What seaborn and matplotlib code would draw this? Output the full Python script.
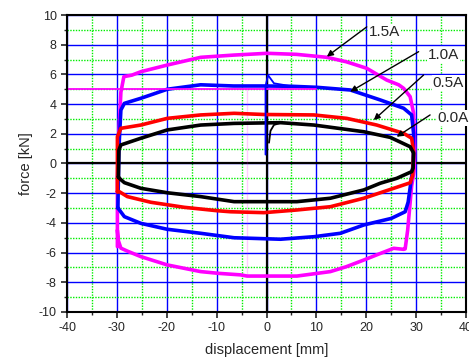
import pandas as pd
import matplotlib.pyplot as plt
import seaborn as sns
import numpy as np

sns.set_style('ticks')
plt.rcParams['font.family'] = ['Liberation Sans', 'DejaVu Sans']
plt.rcParams['axes.unicode_minus'] = False

# hysteresis loops: displacement [mm], force [kN]
x_15 = [-29.9, -29.9, -29.6, -29.2, -28.6, -27.0, -25.2, -19.9, -13.2, -6.6, 0.1, 6.0, 12.1,
        16.0, 20.1, 24.1, 26.5, 27.5, 28.8, 29.5, 29.7, 29.6, 29.1, 28.3, 27.8, 27.5, 25.5,
        22.5, 19.5, 16.0, 12.8, 6.1, -3.9, -5.2, -9.5, -13.2, -19.9, -25.2, -27.9, -29.2,
        -29.7, -29.9]
y_15 = [-5.6, -1.0, 2.0, 4.8, 5.85, 5.95, 6.18, 6.63, 7.15, 7.3, 7.42, 7.35, 7.15,
        6.85, 6.41, 5.62, 5.3, 5.06, 4.5, 3.38, 1.0, -0.5, -1.5, -4.5, -5.75, -5.78, -5.71,
        -6.1, -6.5, -6.95, -7.28, -7.58, -7.58, -7.5, -7.4, -7.28, -6.83, -6.27, -5.9, -5.7,
        -5.2, -4.5]

x_10 = [-29.8, -29.6, -29.2, -28.5, -25.2, -19.9, -13.2, -6.6, -0.5, 5.0, 10.1, 16.8,
        22.8, 27.5, 29.1, 29.5, 29.4, 29.1, 28.4, 27.8, 25.0, 19.5, 14.8, 9.5, 2.8,
        -6.5, -13.2, -19.9, -25.2, -28.5, -29.5, -29.8]
y_10 = [-3.0, 1.0, 3.6, 4.05, 4.39, 5.0, 5.3, 5.22, 5.22, 5.2, 5.13, 4.95,
        4.28, 3.72, 3.27, 2.0, 0.0, -0.9, -2.6, -3.25, -3.7, -4.14, -4.7, -4.93, -5.1,
        -5.0, -4.7, -4.43, -4.03, -3.58, -3.13, -3.0]

x_05 = [-29.9, -29.9, -29.2, -25.2, -19.9, -13.2, -6.5, -0.5, 9.5, 16.1, 22.1, 27.5,
        29.1, 29.5, 29.3, 28.8, 25.5, 19.5, 12.8, 6.1, -0.5, -7.2, -9.9, -16.5, -23.2,
        -27.9, -29.5, -29.9]
y_05 = [-1.9, 1.8, 2.37, 2.59, 3.04, 3.27, 3.38, 3.3, 3.27, 3.04, 2.59, 2.03,
        1.7, 0.8, -0.8, -1.3, -1.67, -2.34, -2.91, -3.13, -3.31, -3.25, -3.18, -2.95, -2.61,
        -2.23, -1.9, -1.9]

x_00 = [-29.7, -29.6, -29.2, -25.2, -19.9, -13.2, -6.5, 2.8, 9.5, 19.5, 24.8, 28.8,
        29.5, 29.4, 29.1, 26.1, 22.8, 19.5, 12.8, 6.1, -0.5, -6.5, -13.2, -19.9, -25.2,
        -28.5, -29.5, -29.7]
y_00 = [-0.9, 0.9, 1.25, 1.7, 2.26, 2.59, 2.7, 2.75, 2.59, 2.14, 1.76, 1.13,
        0.7, -0.3, -0.55, -1.0, -1.33, -1.78, -2.34, -2.57, -2.57, -2.57, -2.23, -1.97, -1.67,
        -1.29, -1.0, -0.9]

# first loading near the origin and the magenta crosshair
x_blue0 = [-0.2, -0.2, 0.3, 1.5, 5.0]
y_blue0 = [0.6, 5.2, 5.95, 5.4, 5.2]
x_black0 = [0.5, 0.8, 1.5, 3.0]
y_black0 = [1.4, 2.2, 2.6, 2.75]
x_cross_h = [-40, 10]
y_cross_h = [5.0, 5.0]
x_cross_v = [-3.9, -3.9]
y_cross_v = [5.0, -7.6]

currents = ['1.5A', '1.0A', '0.5A', '0.0A']
colors = ['#ff00ff', '#0000ff', '#ff0000', '#000000']
label_pos = [(20.6, 8.86), (32.3, 7.3), (33.3, 5.42), (34.3, 3.06)]
arrow_tail = [(20.1, 9.2), (30.5, 7.53), (31.5, 5.96), (32.8, 3.27)]
arrow_tip = [(12.1, 7.2), (16.8, 4.84), (21.5, 2.93), (26.1, 1.8)]

frames = []
for cur, xs, ys in zip(currents, [x_15, x_10, x_05, x_00], [y_15, y_10, y_05, y_00]):
    frames.append(pd.DataFrame({'disp': xs, 'force': ys, 'current': cur}))
df = pd.concat(frames, ignore_index=True)

fig = plt.figure(figsize=(4.69, 3.58), dpi=100)
ax = fig.add_axes([0.1429, 0.1285, 0.8507, 0.8296])

ax.set_xlim(-40, 40)
ax.set_ylim(-10, 10)
ax.set_xticks(np.arange(-40, 41, 10))
ax.set_xticks(np.arange(-35, 40, 10), minor=True)
ax.set_yticks(np.arange(-10, 11, 2))
ax.set_yticks(np.arange(-9, 10, 2), minor=True)
ax.set_axisbelow(True)
ax.grid(which='major', color='#0000ff', lw=1.0)
ax.grid(which='minor', color='#00ee00', lw=1.0, ls=(0, (1, 1)))
ax.axhline(0, color='black', lw=1.6, zorder=1)
ax.axvline(0, color='black', lw=1.6, zorder=1)

sns.lineplot(data=df, x='disp', y='force', hue='current', hue_order=currents,
             palette=colors, sort=False, estimator=None, lw=2.6, legend=False, ax=ax)
sns.lineplot(x=x_cross_h, y=y_cross_h, color='#ff00ff', lw=1.3, sort=False, ax=ax)
sns.lineplot(x=x_cross_v, y=y_cross_v, color='#ff00ff', lw=1.6, sort=False, ax=ax)
sns.lineplot(x=x_blue0, y=y_blue0, color='#0000ff', lw=1.3, sort=False, estimator=None, ax=ax)
sns.lineplot(x=x_black0, y=y_black0, color='black', lw=1.3, sort=False, estimator=None, ax=ax)

for cur, pos, tail, tip in zip(currents, label_pos, arrow_tail, arrow_tip):
    ax.text(pos[0], pos[1], cur, fontsize=11, ha='left', va='center', zorder=5,
            bbox=dict(facecolor='white', edgecolor='none', pad=0.5))
    ax.annotate('', xy=tip, xytext=tail,
                arrowprops=dict(arrowstyle='-|>', color='black', lw=1.0,
                                shrinkA=0, shrinkB=0, mutation_scale=9))

for s in ax.spines.values():
    s.set_linewidth(1.5)
    s.set_color('black')
ax.tick_params(which='major', length=4, width=1.2, labelsize=9)
ax.tick_params(which='minor', length=2.5, width=1.0)
ax.set_xlabel('displacement [mm]', fontsize=10.5, labelpad=6)
ax.set_ylabel('force [kN]', fontsize=10.5, labelpad=4)

fig.savefig('out.png', dpi=100)
